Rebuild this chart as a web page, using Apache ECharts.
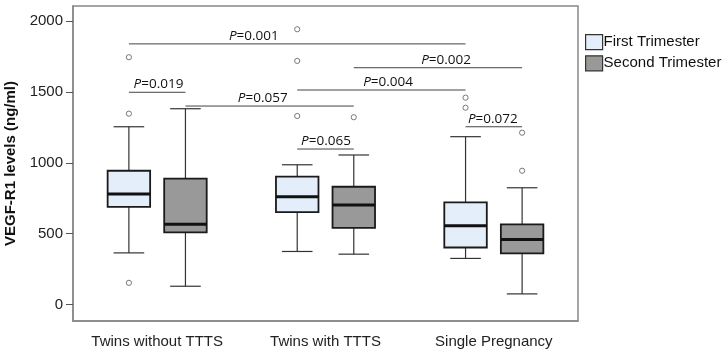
<!DOCTYPE html>
<html>
<head>
<meta charset="utf-8">
<script src="https://cdn.jsdelivr.net/npm/echarts@6/dist/echarts.min.js"></script>
<style>
  html, body { margin: 0; padding: 0; background: #fff; }
  #main { width: 725px; height: 356px; }
</style>
</head>
<body>
<div id="main"></div>
<script>
var categories = ['Twins without TTTS', 'Twins with TTTS', 'Single Pregnancy'];
var seriesNames = ['First Trimester', 'Second Trimester'];
var yTicks = [0, 500, 1000, 1500, 2000];

// [category, lower whisker, Q1, median, Q3, upper whisker]
var firstBoxes = [
    [0, 365, 690, 780, 944, 1254],
    [1, 375, 653, 761, 902, 986],
    [2, 326, 403, 556, 721, 1184]
];
var secondBoxes = [
    [0, 130, 509, 566, 888, 1381],
    [1, 356, 542, 702, 831, 1055],
    [2, 76, 361, 460, 566, 824]
];
// [category, value]
var firstOutliers = [
    [0, 1744], [0, 1346], [0, 154],
    [1, 1941], [1, 1718], [1, 1330],
    [2, 1459], [2, 1388]
];
var secondOutliers = [
    [1, 1321],
    [2, 1212], [2, 944]
];
// [category from, trimester from (-1/1), category to, trimester to, level]
var brackets = [
    [0, -1, 0, 1, 1497],
    [0, -1, 2, -1, 1838],
    [0, 1, 1, 1, 1400],
    [1, -1, 2, -1, 1513],
    [1, 1, 2, 1, 1670],
    [1, -1, 1, 1, 1097],
    [2, -1, 2, 1, 1254]
];
var pValues = ['0.019', '0.001', '0.057', '0.004', '0.002', '0.065', '0.072'];
// where each P label sits, in category units
var pTextAt = [0.008, 0.574, 0.627, 1.372, 1.716, 1.003, 1.994];

var OFF = 0.168;
var BOXW = 0.2525;

function boxRender(side, fill) {
    return function (params, api) {
        var cat = api.value(0);
        var band = api.size([1, 0])[0];
        var cx = api.coord([cat, 0])[0] + side * OFF * band;
        var w = BOXW * band;
        var lo = api.coord([cat, api.value(1)])[1];
        var q1 = api.coord([cat, api.value(2)])[1];
        var md = api.coord([cat, api.value(3)])[1];
        var q3 = api.coord([cat, api.value(4)])[1];
        var hi = api.coord([cat, api.value(5)])[1];
        var cap = w * 0.36;
        var wStyle = { stroke: '#333', lineWidth: 1.2 };
        return {
            type: 'group',
            children: [
                { type: 'line', shape: { x1: cx, y1: hi, x2: cx, y2: q3 }, style: wStyle },
                { type: 'line', shape: { x1: cx, y1: q1, x2: cx, y2: lo }, style: wStyle },
                { type: 'line', shape: { x1: cx - cap, y1: hi, x2: cx + cap, y2: hi }, style: wStyle },
                { type: 'line', shape: { x1: cx - cap, y1: lo, x2: cx + cap, y2: lo }, style: wStyle },
                { type: 'rect', shape: { x: cx - w / 2, y: q3, width: w, height: q1 - q3 },
                  style: { fill: fill, stroke: '#1a1a1a', lineWidth: 1.8 } },
                { type: 'line', shape: { x1: cx - w / 2, y1: md, x2: cx + w / 2, y2: md },
                  style: { stroke: '#111', lineWidth: 3 } }
            ]
        };
    };
}

function outlierRender(side) {
    return function (params, api) {
        var cat = api.value(0);
        var band = api.size([1, 0])[0];
        var p = api.coord([cat, api.value(1)]);
        return {
            type: 'circle',
            shape: { cx: p[0] + side * OFF * band, cy: p[1], r: 2.6 },
            style: { fill: '#fff', stroke: '#777', lineWidth: 1 }
        };
    };
}

function bracketRender(params, api) {
    var band = api.size([1, 0])[0];
    var y = api.coord([0, api.value(4)])[1];
    var x0 = api.coord([0, 0])[0];
    var x1 = api.coord([api.value(0), 0])[0] + api.value(1) * OFF * band;
    var x2 = api.coord([api.value(2), 0])[0] + api.value(3) * OFF * band;
    var tx = x0 + pTextAt[params.dataIndex] * band;
    return {
        type: 'group',
        children: [
            { type: 'line', shape: { x1: x1, y1: y, x2: x2, y2: y },
              style: { stroke: '#444', lineWidth: 1 } },
            { type: 'text', x: tx, y: y - 1,
              style: {
                  text: '{i|P}=' + pValues[params.dataIndex],
                  align: 'center', verticalAlign: 'bottom',
                  fontFamily: 'Open Sans', fontSize: 13.5, fill: '#111',
                  rich: { i: { fontStyle: 'italic', fontFamily: 'Open Sans', fontSize: 13.5, fill: '#111' } }
              } }
        ]
    };
}

var chart = echarts.init(document.getElementById('main'));
chart.setOption({
    animation: false,
    grid: {
        left: 73, right: 147, top: 6, bottom: 35,
        outerBoundsMode: 'none',
        show: true, borderColor: '#888', borderWidth: 1.5
    },
    legend: {
        orient: 'vertical', left: 580, top: 29,
        itemWidth: 17, itemHeight: 15, itemGap: 5,
        textStyle: { fontFamily: 'Liberation Sans', fontSize: 15, color: '#111', padding: [0, 0, 0, -4] },
        data: [
            { name: seriesNames[0], icon: 'rect', itemStyle: { color: '#e3eefa', borderColor: '#333', borderWidth: 1.2 } },
            { name: seriesNames[1], icon: 'rect', itemStyle: { color: '#999999', borderColor: '#333', borderWidth: 1.2 } }
        ]
    },
    xAxis: {
        type: 'category',
        data: categories,
        axisLine: { onZero: false, lineStyle: { color: '#888', width: 1.5 } },
        axisTick: { alignWithLabel: true, interval: 0, length: 8, lineStyle: { color: '#555' } },
        axisLabel: { interval: 0, fontFamily: 'Liberation Sans', fontSize: 15, color: '#222', margin: 13 }
    },
    yAxis: {
        type: 'value',
        min: -115, max: 2105,
        name: 'VEGF-R1 levels (ng/ml)',
        nameLocation: 'middle',
        nameGap: 52,
        nameTextStyle: { fontFamily: 'Liberation Sans', fontSize: 15, fontWeight: 'bold', color: '#111' },
        splitLine: { show: false },
        axisLine: { show: true, lineStyle: { color: '#888', width: 1.5 } },
        axisTick: { show: true, length: 7, customValues: yTicks, lineStyle: { color: '#555' } },
        axisLabel: { customValues: yTicks, formatter: function (v) { return String(v); },
                     fontFamily: 'Liberation Sans', fontSize: 15, color: '#222', margin: 10 }
    },
    series: [
        { name: seriesNames[0], type: 'custom', renderItem: boxRender(-1, '#e3eefa'), data: firstBoxes,
          itemStyle: { color: '#e3eefa' }, encode: { x: 0, y: [1, 2, 3, 4, 5] }, z: 3 },
        { name: seriesNames[1], type: 'custom', renderItem: boxRender(1, '#999999'), data: secondBoxes,
          itemStyle: { color: '#999999' }, encode: { x: 0, y: [1, 2, 3, 4, 5] }, z: 3 },
        { type: 'custom', renderItem: outlierRender(-1), data: firstOutliers, encode: { x: 0, y: 1 }, z: 4 },
        { type: 'custom', renderItem: outlierRender(1), data: secondOutliers, encode: { x: 0, y: 1 }, z: 4 },
        { type: 'custom', renderItem: bracketRender, data: brackets, encode: { x: 0, y: 4 }, z: 2 }
    ]
});
</script>
</body>
</html>
